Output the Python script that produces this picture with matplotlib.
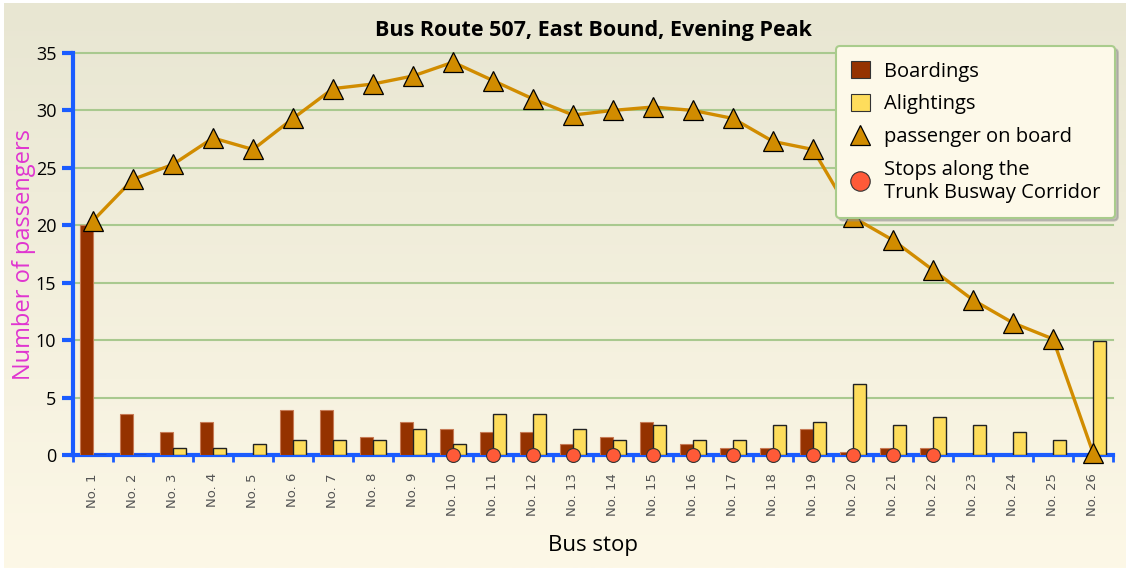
import numpy as np
import matplotlib.pyplot as plt
from matplotlib.patches import Patch
from matplotlib.lines import Line2D
from matplotlib.colors import LinearSegmentedColormap

plt.rcParams["font.family"] = ["Open Sans", "DejaVu Sans"]

# --- data ---
stops = ["No. 1", "No. 2", "No. 3", "No. 4", "No. 5", "No. 6", "No. 7", "No. 8",
         "No. 9", "No. 10", "No. 11", "No. 12", "No. 13", "No. 14", "No. 15",
         "No. 16", "No. 17", "No. 18", "No. 19", "No. 20", "No. 21", "No. 22",
         "No. 23", "No. 24", "No. 25", "No. 26"]
boardings = [20.0, 3.6, 2.0, 2.9, 0.0, 3.9, 3.9, 1.6, 2.9, 2.3, 2.0, 2.0, 1.0,
             1.6, 2.9, 1.0, 0.6, 0.6, 2.3, 0.3, 0.6, 0.6, 0.0, 0.0, 0.0, 0.0]
alightings = [0.0, 0.0, 0.6, 0.6, 1.0, 1.3, 1.3, 1.3, 2.3, 1.0, 3.6, 3.6, 2.3,
              1.3, 2.6, 1.3, 1.3, 2.6, 2.9, 6.2, 2.6, 3.3, 2.6, 2.0, 1.3, 9.9]
on_board = [20.4, 24.0, 25.3, 27.6, 26.6, 29.3, 31.9, 32.3, 33.0, 34.2, 32.6,
            31.0, 29.6, 30.0, 30.3, 30.0, 29.3, 27.3, 26.6, 20.7, 18.7, 16.1,
            13.5, 11.5, 10.1, 0.2]
corridor_stops = ["No. 10", "No. 11", "No. 12", "No. 13", "No. 14", "No. 15",
                  "No. 16", "No. 17", "No. 18", "No. 19", "No. 20", "No. 21",
                  "No. 22"]

BOARD_COL = "#953200"
ALIGHT_COL = "#fedd5c"
LINE_COL = "#d18c00"
STOP_COL = "#ff5a38"
BLUE = "#1a5cff"
GRID_COL = "#a9c98f"

fig = plt.figure(figsize=(11.26, 5.68), dpi=100, facecolor="white")

# gradient background
bg = fig.add_axes([4 / 1126, 0, 1 - 4 / 1126, 1 - 3 / 568], zorder=-10)
grad = np.linspace(0, 1, 256).reshape(-1, 1)
cmap = LinearSegmentedColormap.from_list("bg", ["#e8e6d2", "#fdf8e7"])
bg.imshow(grad, aspect="auto", cmap=cmap, extent=[0, 1, 0, 1], origin="upper")
bg.axis("off")

ax = fig.add_axes([73 / 1126, 113 / 568, 1040 / 1126, 402 / 568])
ax.set_facecolor("none")

x = np.arange(len(stops))
w = 0.335
ax.bar(x - w / 2, boardings, width=w, color=BOARD_COL, edgecolor="#c77a55",
       linewidth=0.8, zorder=3)
ax.bar(x + w / 2, alightings, width=w, color=ALIGHT_COL, edgecolor="#222222",
       linewidth=1.0, zorder=3)
ax.plot(x, on_board, color=LINE_COL, lw=2.4, marker="^", markersize=14,
        markerfacecolor=LINE_COL, markeredgecolor="black", markeredgewidth=0.9,
        zorder=5, clip_on=False)
cx = [stops.index(s) for s in corridor_stops]
ax.plot(cx, [0] * len(cx), linestyle="none", marker="o", markersize=10,
        markerfacecolor=STOP_COL, markeredgecolor="#333333", markeredgewidth=0.8,
        zorder=6, clip_on=False)

ax.set_xlim(-0.5, len(stops) - 0.5)
ax.set_ylim(0, 35)
ax.set_yticks(np.arange(0, 36, 5))
ax.set_xticks(x)
ax.set_xticklabels(stops, rotation=90, family="DejaVu Sans", fontsize=9.5,
                   color="#555555")
ax.set_xticks(np.arange(-0.5, len(stops), 1), minor=True)
ax.tick_params(axis="x", which="major", length=0, pad=13)
ax.tick_params(axis="x", which="minor", length=5, width=2, color=BLUE,
               direction="out")
ax.tick_params(axis="y", length=8, width=3, color=BLUE, labelsize=13,
               pad=4)

for side in ["top", "right"]:
    ax.spines[side].set_visible(False)
for side in ["left", "bottom"]:
    ax.spines[side].set_color(BLUE)
    ax.spines[side].set_linewidth(3)

ax.grid(axis="y", color=GRID_COL, lw=1.5)
for gl in ax.get_ygridlines():
    gl.set_clip_on(False)
ax.set_axisbelow(True)

ax.set_title("Bus Route 507, East Bound, Evening Peak", fontsize=15.5,
             fontweight="bold", pad=12)
ax.set_xlabel("Bus stop", fontsize=16, labelpad=14)
ax.set_ylabel("Number of passengers", fontsize=17, color="#e035d0", labelpad=0)

handles = [
    Patch(facecolor=BOARD_COL, edgecolor="#333333", linewidth=0.8),
    Patch(facecolor=ALIGHT_COL, edgecolor="#333333", linewidth=0.8),
    Line2D([], [], linestyle="none", marker="^", markersize=15,
           markerfacecolor=LINE_COL, markeredgecolor="black", markeredgewidth=0.9),
    Line2D([], [], linestyle="none", marker="o", markersize=14,
           markerfacecolor=STOP_COL, markeredgecolor="#333333", markeredgewidth=0.8),
]
labels = ["Boardings", "Alightings", "passenger on board",
          "Stops along the\nTrunk Busway Corridor"]
leg = ax.legend(handles, labels, loc="upper right", bbox_to_anchor=(1.002, 1.017),
                borderaxespad=0, fontsize=14.5, frameon=True, fancybox=True,
                shadow={"color": "0.55", "alpha": 0.45}, handlelength=0.9,
                handleheight=0.9, handletextpad=0.7, labelspacing=0.62,
                borderpad=0.75, framealpha=1)
frame = leg.get_frame()
frame.set_facecolor("#fdf9e9")
frame.set_edgecolor("#a9cc8c")
frame.set_linewidth(1.5)
leg.set_zorder(10)

fig.savefig("out.png", dpi=100)
